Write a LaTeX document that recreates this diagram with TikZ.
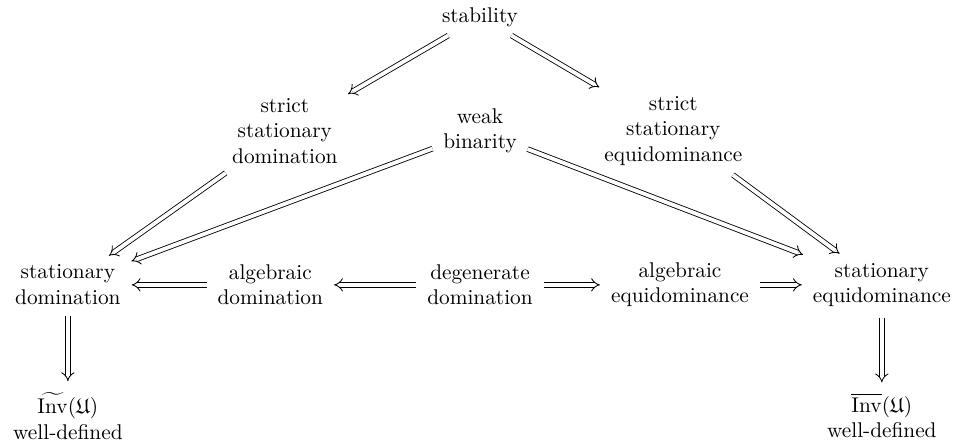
\documentclass[tikz,border=0pt]{standalone}
\usepackage{amsmath,amssymb}
\usepackage{tikz}
\usetikzlibrary{arrows.meta}
\tikzset{
  ar/.style={-{Implies},double,double distance=1.8pt,shorten >=2pt,shorten <=2pt},
  nd/.style={align=center,inner sep=3pt}
}
\begin{document}
\begin{tikzpicture}
\useasboundingbox (0,0) rectangle (15.84,-7.29);
\node[nd] (stab) at (7.92,-0.28) {stability};
\node[nd] (ssd) at (4.70,-2.16) {strict\\stationary\\domination}; \node[nd] (wb) at (7.92,-2.16) {weak\\binarity}; \node[nd] (sse) at (11.11,-2.16) {strict\\stationary\\equidominance};
\node[nd] (sd) at (1.12,-4.70) {stationary\\domination}; \node[nd] (ad) at (4.46,-4.70) {algebraic\\domination}; \node[nd] (dd) at (7.92,-4.70) {degenerate\\domination};
\node[nd] (ae) at (11.22,-4.70) {algebraic\\equidominance}; \node[nd] (se) at (14.55,-4.70) {stationary\\equidominance};
\node[nd] (invt) at (1.12,-6.86) {$\widetilde{\mathrm{Inv}}(\mathfrak{U})$\\well-defined}; \node[nd] (invb) at (14.55,-6.86) {$\overline{\mathrm{Inv}}(\mathfrak{U})$\\well-defined};
\draw[ar] (stab)--(ssd); \draw[ar] (stab)--(sse);
\draw[ar] (ssd)--(sd); \draw[ar] (wb)--(sd); \draw[ar] (wb)--(se); \draw[ar] (sse)--(se);
\draw[ar] (ad)--(sd); \draw[ar] (dd)--(ad); \draw[ar] (dd)--(ae); \draw[ar] (ae)--(se);
\draw[ar] (sd)--(invt); \draw[ar] (se)--(invb);
\end{tikzpicture}
\end{document}
